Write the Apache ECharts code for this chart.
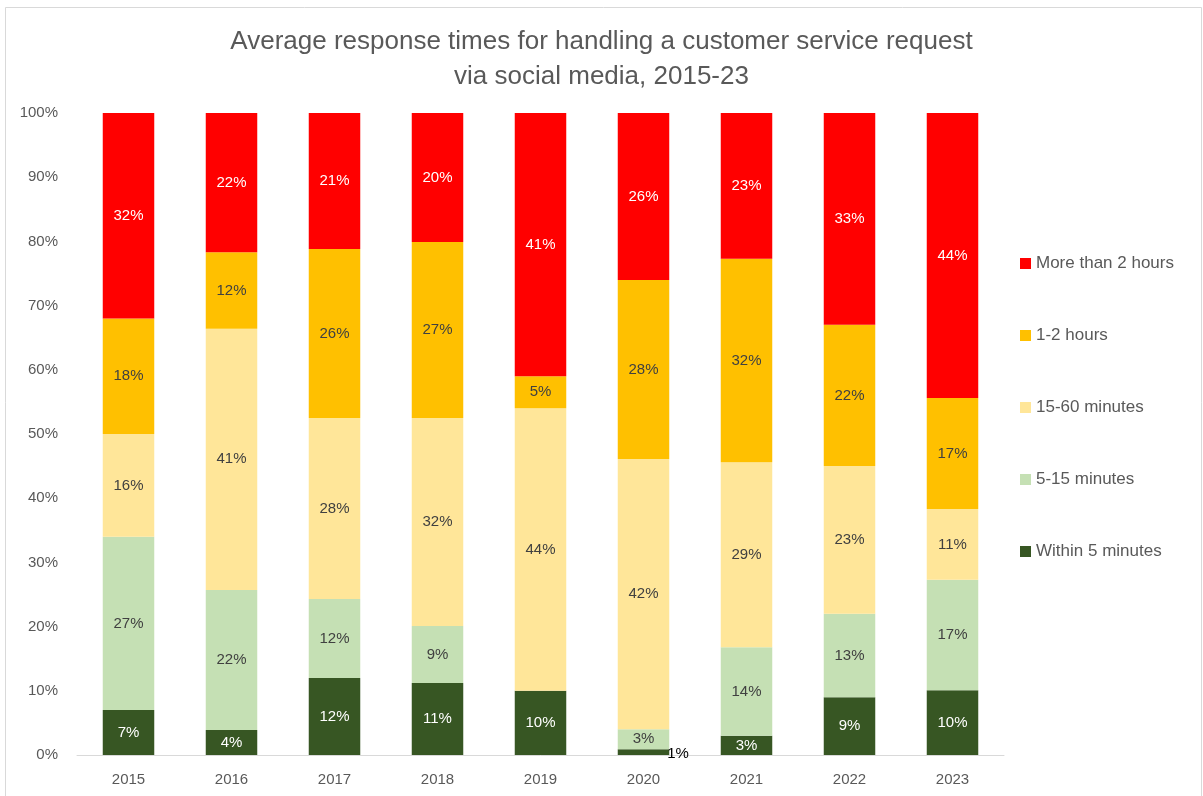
<!DOCTYPE html>
<html>
<head>
<meta charset="utf-8">
<script src="https://cdn.jsdelivr.net/npm/echarts@6/dist/echarts.min.js"></script>
<style>
  html, body { margin: 0; padding: 0; background: #fff; }
  #chart { width: 1203px; height: 796px; }
</style>
</head>
<body>
<div id="chart"></div>
<script>
const years = ['2015', '2016', '2017', '2018', '2019', '2020', '2021', '2022', '2023'];
const within5 = [7, 3.9, 12, 11.2, 10, 0.9, 3, 9, 10.1];
const min5to15 = [27, 21.8, 12.3, 8.9, 0, 3.1, 13.8, 13, 17.2];
const min15to60 = [16, 40.7, 28.2, 32.4, 44, 42.1, 28.8, 23, 11];
const hours1to2 = [18, 11.9, 26.3, 27.4, 5, 27.9, 31.7, 22, 17.3];
const over2h = [32, 21.7, 21.2, 20.1, 41, 26, 22.7, 33, 44.4];
const yTicks = [0, 10, 20, 30, 40, 50, 60, 70, 80, 90, 100];

const FONT = '"Liberation Sans", "DejaVu Sans", sans-serif';
const GREY = '#595959';

function makeSeries(name, values, color, labelColor){
  return {
    name: name,
    type: 'bar',
    stack: 'total',
    barWidth: '50%',
    itemStyle: { color: color },
    label: {
      show: true,
      position: 'inside',
      color: labelColor,
      fontFamily: FONT,
      fontSize: 15,
      formatter: (p) => p.value > 0 ? Math.round(p.value) + '%' : ''
    },
    data: values.map((v) => v)
  };
}

const series = [
  makeSeries('Within 5 minutes', within5, '#375623', '#ffffff'),
  makeSeries('5-15 minutes', min5to15, '#C5E0B4', '#404040'),
  makeSeries('15-60 minutes', min15to60, '#FFE699', '#404040'),
  makeSeries('1-2 hours', hours1to2, '#FFC000', '#404040'),
  makeSeries('More than 2 hours', over2h, '#FF0000', '#ffffff')
];
// the tiny 2020 segment has its label outside, to the right of the bar
series[0].data[5] = {
  value: within5[5],
  label: { position: 'right', distance: 0, offset: [-2, 2], color: '#000000' }
};

const chart = echarts.init(document.getElementById('chart'), null, { renderer: 'canvas' });
chart.setOption({
  animation: false,
  backgroundColor: '#ffffff',
  title: {
    text: 'Average response times for handling a customer service request\nvia social media, 2015-23',
    left: 'center',
    top: 19,
    textStyle: { color: GREY, fontFamily: FONT, fontSize: 26, fontWeight: 'normal', lineHeight: 35 }
  },
  legend: {
    orient: 'vertical',
    left: 1015,
    top: 250,
    itemWidth: 11,
    itemHeight: 11,
    itemGap: 55,
    icon: 'rect',
    data: ['More than 2 hours', '1-2 hours', '15-60 minutes', '5-15 minutes', 'Within 5 minutes'],
    textStyle: { color: GREY, fontFamily: FONT, fontSize: 17 }
  },
  grid: { left: 77, right: 199, top: 113, bottom: 41, containLabel: false },
  xAxis: {
    type: 'category',
    data: years,
    axisLine: { lineStyle: { color: '#d9d9d9' } },
    axisTick: { show: false },
    axisLabel: { color: GREY, fontFamily: FONT, fontSize: 15, margin: 17 }
  },
  yAxis: {
    type: 'value',
    min: yTicks[0],
    max: yTicks[yTicks.length - 1],
    interval: yTicks[1] - yTicks[0],
    axisLine: { show: false },
    axisTick: { show: false },
    splitLine: { show: false },
    axisLabel: { color: GREY, fontFamily: FONT, fontSize: 15, margin: 19, formatter: '{value}%' }
  },
  graphic: [{
    type: 'rect',
    shape: { x: 5.5, y: 7.5, width: 1196, height: 790 },
    style: { fill: null, stroke: '#d9d9d9', lineWidth: 1 },
    silent: true
  }],
  series: series
});
window.addEventListener('resize', () => chart.resize());
</script>
</body>
</html>
